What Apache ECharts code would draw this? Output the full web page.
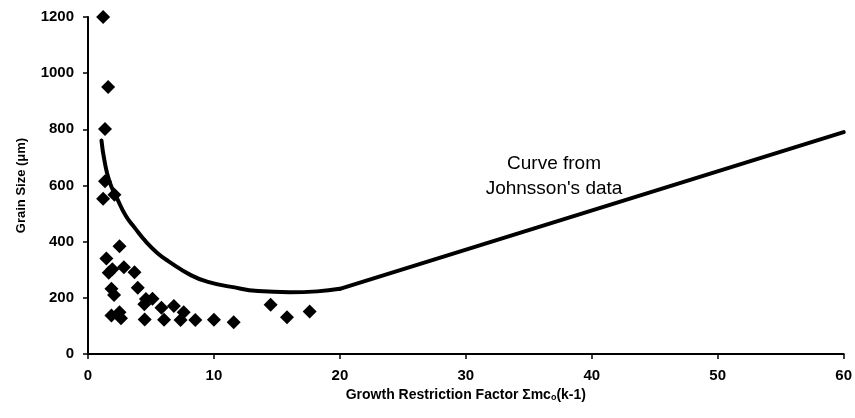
<!DOCTYPE html>
<html>
<head>
<meta charset="utf-8">
<script src="https://cdn.jsdelivr.net/npm/echarts@6/dist/echarts.min.js"></script>
<style>
html,body{margin:0;padding:0;background:#fff;}
#chart{width:855px;height:418px;}
</style>
</head>
<body>
<div id="chart"></div>
<script>
// Measured grain sizes (x = growth restriction factor, y = grain size in µm)
var pointX = [1.2, 1.6, 1.35, 1.35, 1.2, 2.1, 2.5, 1.46, 1.65, 1.93, 2.85, 3.69, 1.86, 2.07, 3.95, 4.6, 5.12, 4.47, 5.83, 6.82, 7.6, 1.86, 2.5, 2.62, 4.5, 6.04, 7.35, 8.52, 10.0, 11.57, 14.5, 15.8, 17.6];
var pointY = [1200, 951, 801, 615, 553, 567, 384, 340, 289, 302, 309, 291, 232, 210, 236, 196, 197, 177, 165, 171, 149, 137, 149, 127, 123, 122, 121, 121, 122, 113, 175, 131, 151];

// Curve from Johnsson's data: curved part (up to 20) and straight part (20 to 60)
var curveX = [1.07, 1.3, 1.7, 2.3, 3.0, 3.7, 4.6, 5.5, 6.4, 8.2, 9.6, 11.4, 13.5, 16.0, 18.2, 20.0];
var curveY = [760, 690, 615, 555, 492, 450, 400, 360, 330, 280, 256, 239, 224, 220, 223, 232];
var lineX = [20.0, 60];
var lineY = [232, 790];

var xTicks = {min: 0, max: 60, interval: 10};
var yTicks = {min: 0, max: 1200, interval: 200};

var scatterData = pointX.map(function (x, i) { return [x, pointY[i]]; });
var curveData = curveX.map(function (x, i) { return [x, curveY[i]]; });
var lineData = lineX.map(function (x, i) { return [x, lineY[i]]; });

var chart = echarts.init(document.getElementById('chart'), null, {renderer: 'canvas'});
var fontFam = '"Liberation Sans", Arial, Helvetica, sans-serif';
chart.setOption({
  animation: false,
  backgroundColor: '#ffffff',
  grid: {left: 88, right: 11, top: 17, bottom: 64},
  xAxis: {
    type: 'value',
    min: xTicks.min, max: xTicks.max, interval: xTicks.interval,
    name: 'Growth Restriction Factor Σmc{sub|o}(k-1)',
    nameLocation: 'middle',
    nameGap: 30,
    nameTextStyle: {
      color: '#000', fontFamily: fontFam, fontWeight: 'bold', fontSize: 14,
      rich: {sub: {fontSize: 9, fontWeight: 'bold', fontFamily: fontFam, color: '#000', verticalAlign: 'bottom', padding: [6, 0, 0, 0]}}
    },
    axisLine: {show: true, lineStyle: {color: '#000', width: 2}},
    axisTick: {show: true, length: 5, lineStyle: {color: '#000', width: 1.5}},
    axisLabel: {color: '#000', fontFamily: fontFam, fontWeight: 'bold', fontSize: 15, margin: 14,
      formatter: function (v) { return String(v); }},
    splitLine: {show: false}
  },
  yAxis: {
    type: 'value',
    min: yTicks.min, max: yTicks.max, interval: yTicks.interval,
    name: 'Grain Size (μm)',
    nameLocation: 'middle',
    nameGap: 60,
    nameTextStyle: {color: '#000', fontFamily: fontFam, fontWeight: 'bold', fontSize: 13},
    axisLine: {show: true, lineStyle: {color: '#000', width: 2}},
    axisTick: {show: true, length: 5, lineStyle: {color: '#000', width: 1.5}},
    axisLabel: {color: '#000', fontFamily: fontFam, fontWeight: 'bold', fontSize: 15, margin: 14,
      formatter: function (v) { return String(v); }},
    splitLine: {show: false}
  },
  series: [
    {
      type: 'line',
      data: curveData,
      smooth: 0.5,
      showSymbol: false,
      symbol: 'none',
      lineStyle: {color: '#000', width: 4, cap: 'round'},
      z: 2
    },
    {
      type: 'line',
      data: lineData,
      smooth: false,
      showSymbol: false,
      symbol: 'none',
      lineStyle: {color: '#000', width: 4, cap: 'round'},
      z: 2
    },
    {
      type: 'scatter',
      data: scatterData,
      symbol: 'diamond',
      symbolSize: 14,
      itemStyle: {color: '#000', opacity: 1},
      z: 3
    }
  ],
  graphic: [
    {
      type: 'text',
      x: 554, y: 151,
      style: {
        text: 'Curve from\nJohnsson\'s data',
        fill: '#000',
        font: '19px ' + fontFam,
        textAlign: 'center',
        textVerticalAlign: 'top',
        lineHeight: 25
      }
    }
  ]
});
</script>
</body>
</html>
